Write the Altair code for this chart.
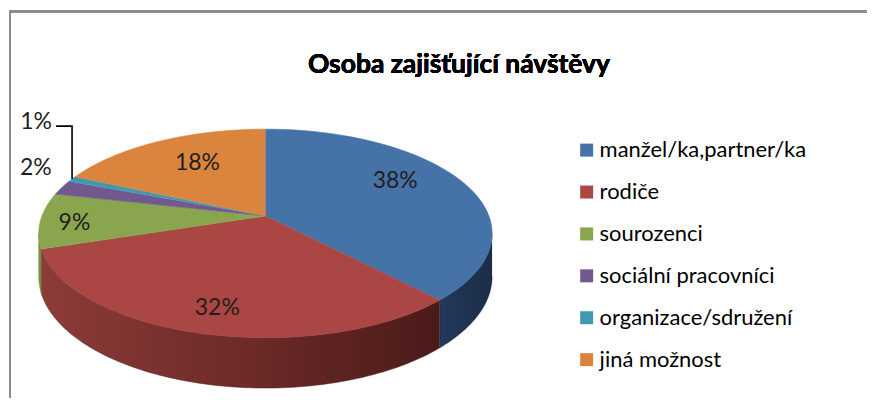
import math
import altair as alt
import pandas as pd

# ---- data ----
categories = ["manžel/ka,partner/ka", "rodiče", "sourozenci",
              "sociální pracovníci", "organizace/sdružení", "jiná možnost"]
shares = [0.380, 0.320, 0.086, 0.023, 0.009, 0.182]
colors = ["#4572A7", "#AA4643", "#89A54E", "#71588F", "#4198AF", "#DB843D"]
title_text = "Osoba zajišťující návštěvy"

df = pd.DataFrame({"cat": categories, "share": shares,
                   "idx": list(range(len(categories)))})

# ---- projection of the 3D pie (page pixel units) ----
CX, CY, A, B, K, D = 265, 216, 224, 101.6, 0.1675, 42
N = 90
E1 = math.acos(-K)
E2 = 2 * math.pi - E1
FONT = "Lato"

W, H = 860, 390
xs = alt.Scale(domain=[8, 8 + W], nice=False, zero=False)
ys = alt.Scale(domain=[8, 8 + H], nice=False, zero=False, reverse=True)
cscale = alt.Scale(domain=categories, range=colors)


def proj(chart, t="datum.t", r="1", dz="0"):
    return (chart.transform_calculate(u=f"({r})*sin({t})", v=f"({r})*cos({t})")
            .transform_calculate(w=f"1 + {K}*datum.v")
            .transform_calculate(X=f"{CX} + {A}*datum.u/datum.w",
                                 Y=f"{CY} - {B}*datum.v/datum.w + ({dz})*{D}/datum.w"))


base = (alt.Chart(df)
        .transform_window(cum="sum(share)", sort=[alt.SortField("idx", order="ascending")],
                          frame=[None, 0])
        .transform_calculate(a0="(datum.cum - datum.share)*2*PI", a1="datum.cum*2*PI"))

# side walls (front, visible part)
def wall(i, stops):
    c = (base.transform_filter(f"datum.idx == {i}")
         .transform_calculate(b0=f"max(datum.a0, {E1})", b1=f"min(datum.a1, {E2})")
         .transform_filter("datum.b1 > datum.b0")
         .transform_calculate(steps=f"sequence(0, {2 * N + 2})")
         .transform_flatten(["steps"], as_=["step"])
         .transform_calculate(
             t=f"datum.step <= {N} ? datum.b0 + (datum.b1 - datum.b0)*datum.step/{N} : "
               f"datum.b1 - (datum.b1 - datum.b0)*(datum.step - {N} - 1)/{N}",
             dz=f"datum.step <= {N} ? 0 : 1"))
    c = proj(c, dz="datum.dz")
    grad = alt.Gradient(gradient="linear", x1=0, x2=1, y1=0, y2=0,
                        stops=[alt.GradientStop(color=col, offset=o) for o, col in stops])
    return c.mark_line(fill=grad, stroke=stops[-1][1], strokeWidth=0.5).encode(
        x=alt.X("X:Q", scale=xs, axis=None),
        y=alt.Y("Y:Q", scale=ys, axis=None),
        order=alt.Order("step:Q"))


walls = [
    wall(0, [(0, "#23395a"), (1, "#1b2d47")]),
    wall(1, [(0, "#8d3b38"), (0.5, "#6e2b29"), (1, "#4a1b19")]),
    wall(2, [(0, "#7a9a45"), (1, "#6b8a3a")]),
]

# top faces
top = (base.transform_calculate(steps=f"sequence(0, {N + 1})")
       .transform_flatten(["steps"], as_=["step"])
       .transform_calculate(
           t=f"datum.a0 + (datum.a1 - datum.a0)*max(datum.step - 1, 0)/({N} - 1)",
           r="datum.step == 0 ? 0 : 1"))
top = proj(top, r="datum.r").mark_line(strokeWidth=0.6, strokeJoin="round").encode(
    x=alt.X("X:Q", scale=xs, axis=None),
    y=alt.Y("Y:Q", scale=ys, axis=None),
    order=alt.Order("step:Q"),
    stroke=alt.Stroke("cat:N", scale=cscale, legend=None),
    fill=alt.Fill("cat:N", scale=cscale, sort=categories, legend=alt.Legend(
        title=None, orient="none", legendX=568, legendY=131, symbolType="square",
        symbolSize=169, symbolStrokeWidth=0, labelFont=FONT, labelFontSize=22,
        labelColor="#000000", rowPadding=20, padding=0, labelOffset=2,
        labelLimit=400, direction="vertical")),
)

# labels
lab = base.transform_calculate(
    t="(datum.a0 + datum.a1)/2",
    lr="datum.share < 0.05 ? 1 : datum.idx == 1 ? 0.8 : datum.idx == 2 ? 0.85 : 0.65")
lab = proj(lab, r="datum.lr").transform_calculate(
    LX="datum.X + (datum.share < 0.05 ? (datum.share < 0.015 ? -36 : -26) : (datum.idx == 5 ? 4 : datum.idx == 1 ? 3 : 0))",
    LY="datum.Y + (datum.share < 0.05 ? (datum.share < 0.015 ? -57 : -20) : (datum.idx == 0 ? -12 : datum.idx == 2 ? 3 : datum.idx == 5 ? -2 : 2))",
    lbl="format(datum.share, '.0%')")
labels = lab.mark_text(font=FONT, fontSize=23, color="#1f1f1f", baseline="middle",
                       align="center").encode(
    x=alt.X("LX:Q", scale=xs, axis=None),
    y=alt.Y("LY:Q", scale=ys, axis=None),
    text="lbl:N")

# leader line for the smallest slice
lead = (base.transform_filter("datum.share < 0.015")
        .transform_calculate(t="(datum.a0 + datum.a1)/2"))
lead = proj(lead).transform_calculate(steps="sequence(0, 3)").transform_flatten(
    ["steps"], as_=["step"]).transform_calculate(
    PX="datum.X - (datum.step == 2 ? 16 : 0)",
    PY="datum.Y - (datum.step >= 1 ? 53 : 0)")
leader = lead.mark_line(color="#000000", strokeWidth=1.6).encode(
    x=alt.X("PX:Q", scale=xs, axis=None),
    y=alt.Y("PY:Q", scale=ys, axis=None),
    order=alt.Order("step:Q"))

title = alt.Chart(df).mark_text(font=FONT, fontSize=26.5, fontWeight="bold",
                                color="#000000", baseline="middle", align="center").encode(
    x=alt.value(451), y=alt.value(57), text=alt.value(title_text))

frame_top = alt.Chart(df).mark_rule(color="#8c8c8c", strokeWidth=2).encode(
    x=alt.value(0), x2=alt.value(W), y=alt.value(3))
frame_left = alt.Chart(df).mark_rule(color="#8c8c8c", strokeWidth=2).encode(
    x=alt.value(1), y=alt.value(2), y2=alt.value(H))

chart = alt.layer(frame_top, frame_left, *walls, top, labels, leader, title).properties(
    width=W, height=H, padding=0
).configure_view(stroke=None)

chart.save("out.html", embed_options={"renderer": "svg", "actions": False})
